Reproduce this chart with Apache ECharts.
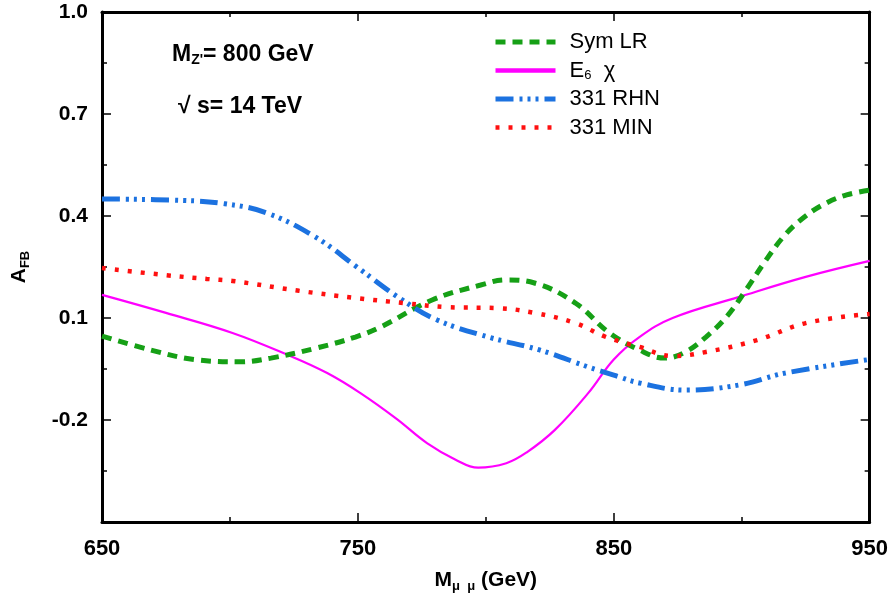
<!DOCTYPE html>
<html>
<head>
<meta charset="utf-8">
<script src="https://cdn.jsdelivr.net/npm/echarts@6/dist/echarts.min.js"></script>
<style>
  html, body { margin: 0; padding: 0; background: #fff; }
  #chart { width: 891px; height: 603px; }
</style>
</head>
<body>
<div id="chart"></div>
<script>
// Forward-backward asymmetry A_FB versus dimuon invariant mass
const seriesNames = ['Sym LR', 'E6 χ', '331 RHN', '331 MIN'];

const symLrMass = [650, 669, 688, 704, 716, 734, 749, 759, 779, 798, 808, 819, 835, 848, 860, 870, 878, 886, 894, 902, 909, 917, 925, 933, 941, 950];
const symLrAfb  = [0.047, 0.006, -0.024, -0.029, -0.018, 0.012, 0.044, 0.074, 0.153, 0.197, 0.212, 0.203, 0.144, 0.058, 0.006, -0.018, 0.0, 0.044, 0.103, 0.186, 0.265, 0.345, 0.400, 0.438, 0.462, 0.476];

const e6Mass = [650, 675, 701, 723, 738, 751, 765, 777, 788, 797, 808, 816, 827, 840, 850, 860, 873, 899, 925, 950];
const e6Afb  = [0.168, 0.115, 0.056, -0.010, -0.062, -0.121, -0.196, -0.268, -0.316, -0.340, -0.327, -0.295, -0.229, -0.121, -0.022, 0.044, 0.100, 0.162, 0.221, 0.268];

const rhnMass = [650, 681, 698, 714, 733, 750, 766, 781, 801, 821, 840, 850, 860, 878, 899, 917, 950];
const rhnAfb  = [0.450, 0.446, 0.436, 0.410, 0.340, 0.248, 0.160, 0.094, 0.044, 0.006, -0.044, -0.068, -0.091, -0.112, -0.097, -0.062, -0.022];

const minMass = [650, 675, 691, 701, 727, 748, 768, 785, 805, 819, 835, 847, 860, 873, 886, 906, 925, 950];
const minAfb  = [0.247, 0.226, 0.215, 0.209, 0.180, 0.160, 0.144, 0.132, 0.129, 0.115, 0.085, 0.044, 0.015, -0.012, 0.0, 0.035, 0.085, 0.112];

const xLabelValues = [650, 750, 850, 950];
const xMinorValues = [700, 800, 900];
const yLabelValues = [-0.2, 0.1, 0.4, 0.7, 1.0];
const yMinorValues = [-0.35, -0.05, 0.25, 0.55, 0.85];

const FONT = 'Liberation Sans';

function pairs(xs, ys) { return xs.map((x, i) => [x, ys[i]]); }

// One side of the frame box: a line plus inward ticks at the given values
function frameAxis(kind, position, tickValues, tickLen, primary) {
  const isX = kind === 'x';
  return {
    type: 'value',
    position: position,
    min: isX ? 650 : -0.5,
    max: isX ? 950 : 1.0,
    splitLine: { show: false },
    axisLine: { show: primary, onZero: false, lineStyle: { color: '#000', width: 3 } },
    axisTick: { show: true, inside: true, length: tickLen, customValues: tickValues,
                lineStyle: { color: '#000', width: 1.5 } },
    axisLabel: { show: false }
  };
}

const subStyle = { fontFamily: FONT, fontWeight: 'bold', fontSize: 13, verticalAlign: 'bottom', padding: [12, 0, 0, 0] };

const xAxes = [
  frameAxis('x', 'bottom', xLabelValues, 9, true),
  frameAxis('x', 'bottom', xMinorValues, 5, false),
  frameAxis('x', 'top', xLabelValues, 9, true),
  frameAxis('x', 'top', xMinorValues, 5, false)
];
Object.assign(xAxes[0], {
  axisLabel: { show: true, customValues: xLabelValues, margin: 16,
               fontFamily: FONT, fontWeight: 'bold', fontSize: 22, color: '#000',
               formatter: v => String(Math.round(v)) },
  name: 'M{s|μ  μ} (GeV)',
  nameLocation: 'middle',
  nameGap: 46,
  nameTextStyle: { fontFamily: FONT, fontWeight: 'bold', fontSize: 21, color: '#000', rich: { s: subStyle } }
});

const yAxes = [
  frameAxis('y', 'left', yLabelValues, 9, true),
  frameAxis('y', 'left', yMinorValues, 5, false),
  frameAxis('y', 'right', yLabelValues, 9, true),
  frameAxis('y', 'right', yMinorValues, 5, false)
];
Object.assign(yAxes[0], {
  axisLabel: { show: true, customValues: yLabelValues, margin: 14,
               fontFamily: FONT, fontWeight: 'bold', fontSize: 21, color: '#000',
               formatter: v => v.toFixed(1) },
  name: 'A{s|FB}',
  nameLocation: 'middle',
  nameGap: 70,
  nameRotate: 90,
  nameTextStyle: { fontFamily: FONT, fontWeight: 'bold', fontSize: 21, color: '#000', rich: { s: subStyle } }
});

const styles = [
  { color: '#16a016', width: 5, type: [10, 7] },
  { color: '#ff00ff', width: 2.2, type: 'solid' },
  { color: '#1c72e0', width: 5, type: [18, 6, 3, 5, 3, 5, 3, 6] },
  { color: '#ff1010', width: 4.5, type: [4, 9] }
];
const legendWidths = [5, 4.5, 5, 4.5];
const dataSets = [pairs(symLrMass, symLrAfb), pairs(e6Mass, e6Afb), pairs(rhnMass, rhnAfb), pairs(minMass, minAfb)];

const series = seriesNames.map((name, i) => ({
  name: name,
  type: 'line',
  xAxisIndex: 0,
  yAxisIndex: 0,
  data: dataSets[i],
  smooth: 0.4,
  symbol: 'none',
  lineStyle: styles[i],
  itemStyle: { color: styles[i].color },
  z: i === 1 ? 2 : 3
}));

const chart = echarts.init(document.getElementById('chart'), null, { renderer: 'canvas' });
chart.setOption({
  animation: false,
  backgroundColor: '#fff',
  grid: { left: 102, right: 15, top: 12, bottom: 81, containLabel: false },
  xAxis: xAxes,
  yAxis: yAxes,
  legend: {
    orient: 'vertical',
    left: 488,
    top: 26,
    itemWidth: 60,
    itemHeight: 14,
    itemGap: 6.5,
    itemStyle: { opacity: 0 },
    data: seriesNames.map((n, i) => ({ name: n, lineStyle: { width: legendWidths[i] } })),
    formatter: n => n === 'E6 χ' ? 'E{s|6}  χ' : n,
    textStyle: {
      fontFamily: FONT, fontSize: 22, color: '#000', padding: [0, 0, 0, 9],
      rich: { s: { fontFamily: FONT, fontSize: 13, verticalAlign: 'bottom', padding: [8, 0, 0, 0] } }
    }
  },
  graphic: [
    { type: 'text', left: 172, top: 43,
      style: { text: 'M{s|Z\'}= 800 GeV', fill: '#000',
               font: 'bold 23px "Liberation Sans"',
               rich: { s: { font: 'bold 14px "Liberation Sans"', verticalAlign: 'bottom', padding: [12, 0, 0, 0] } } } },
    { type: 'text', left: 178, top: 95,
      style: { text: '√ s= 14 TeV', fill: '#000', font: 'bold 23px "Liberation Sans"' } }
  ],
  series: series
});
</script>
</body>
</html>
